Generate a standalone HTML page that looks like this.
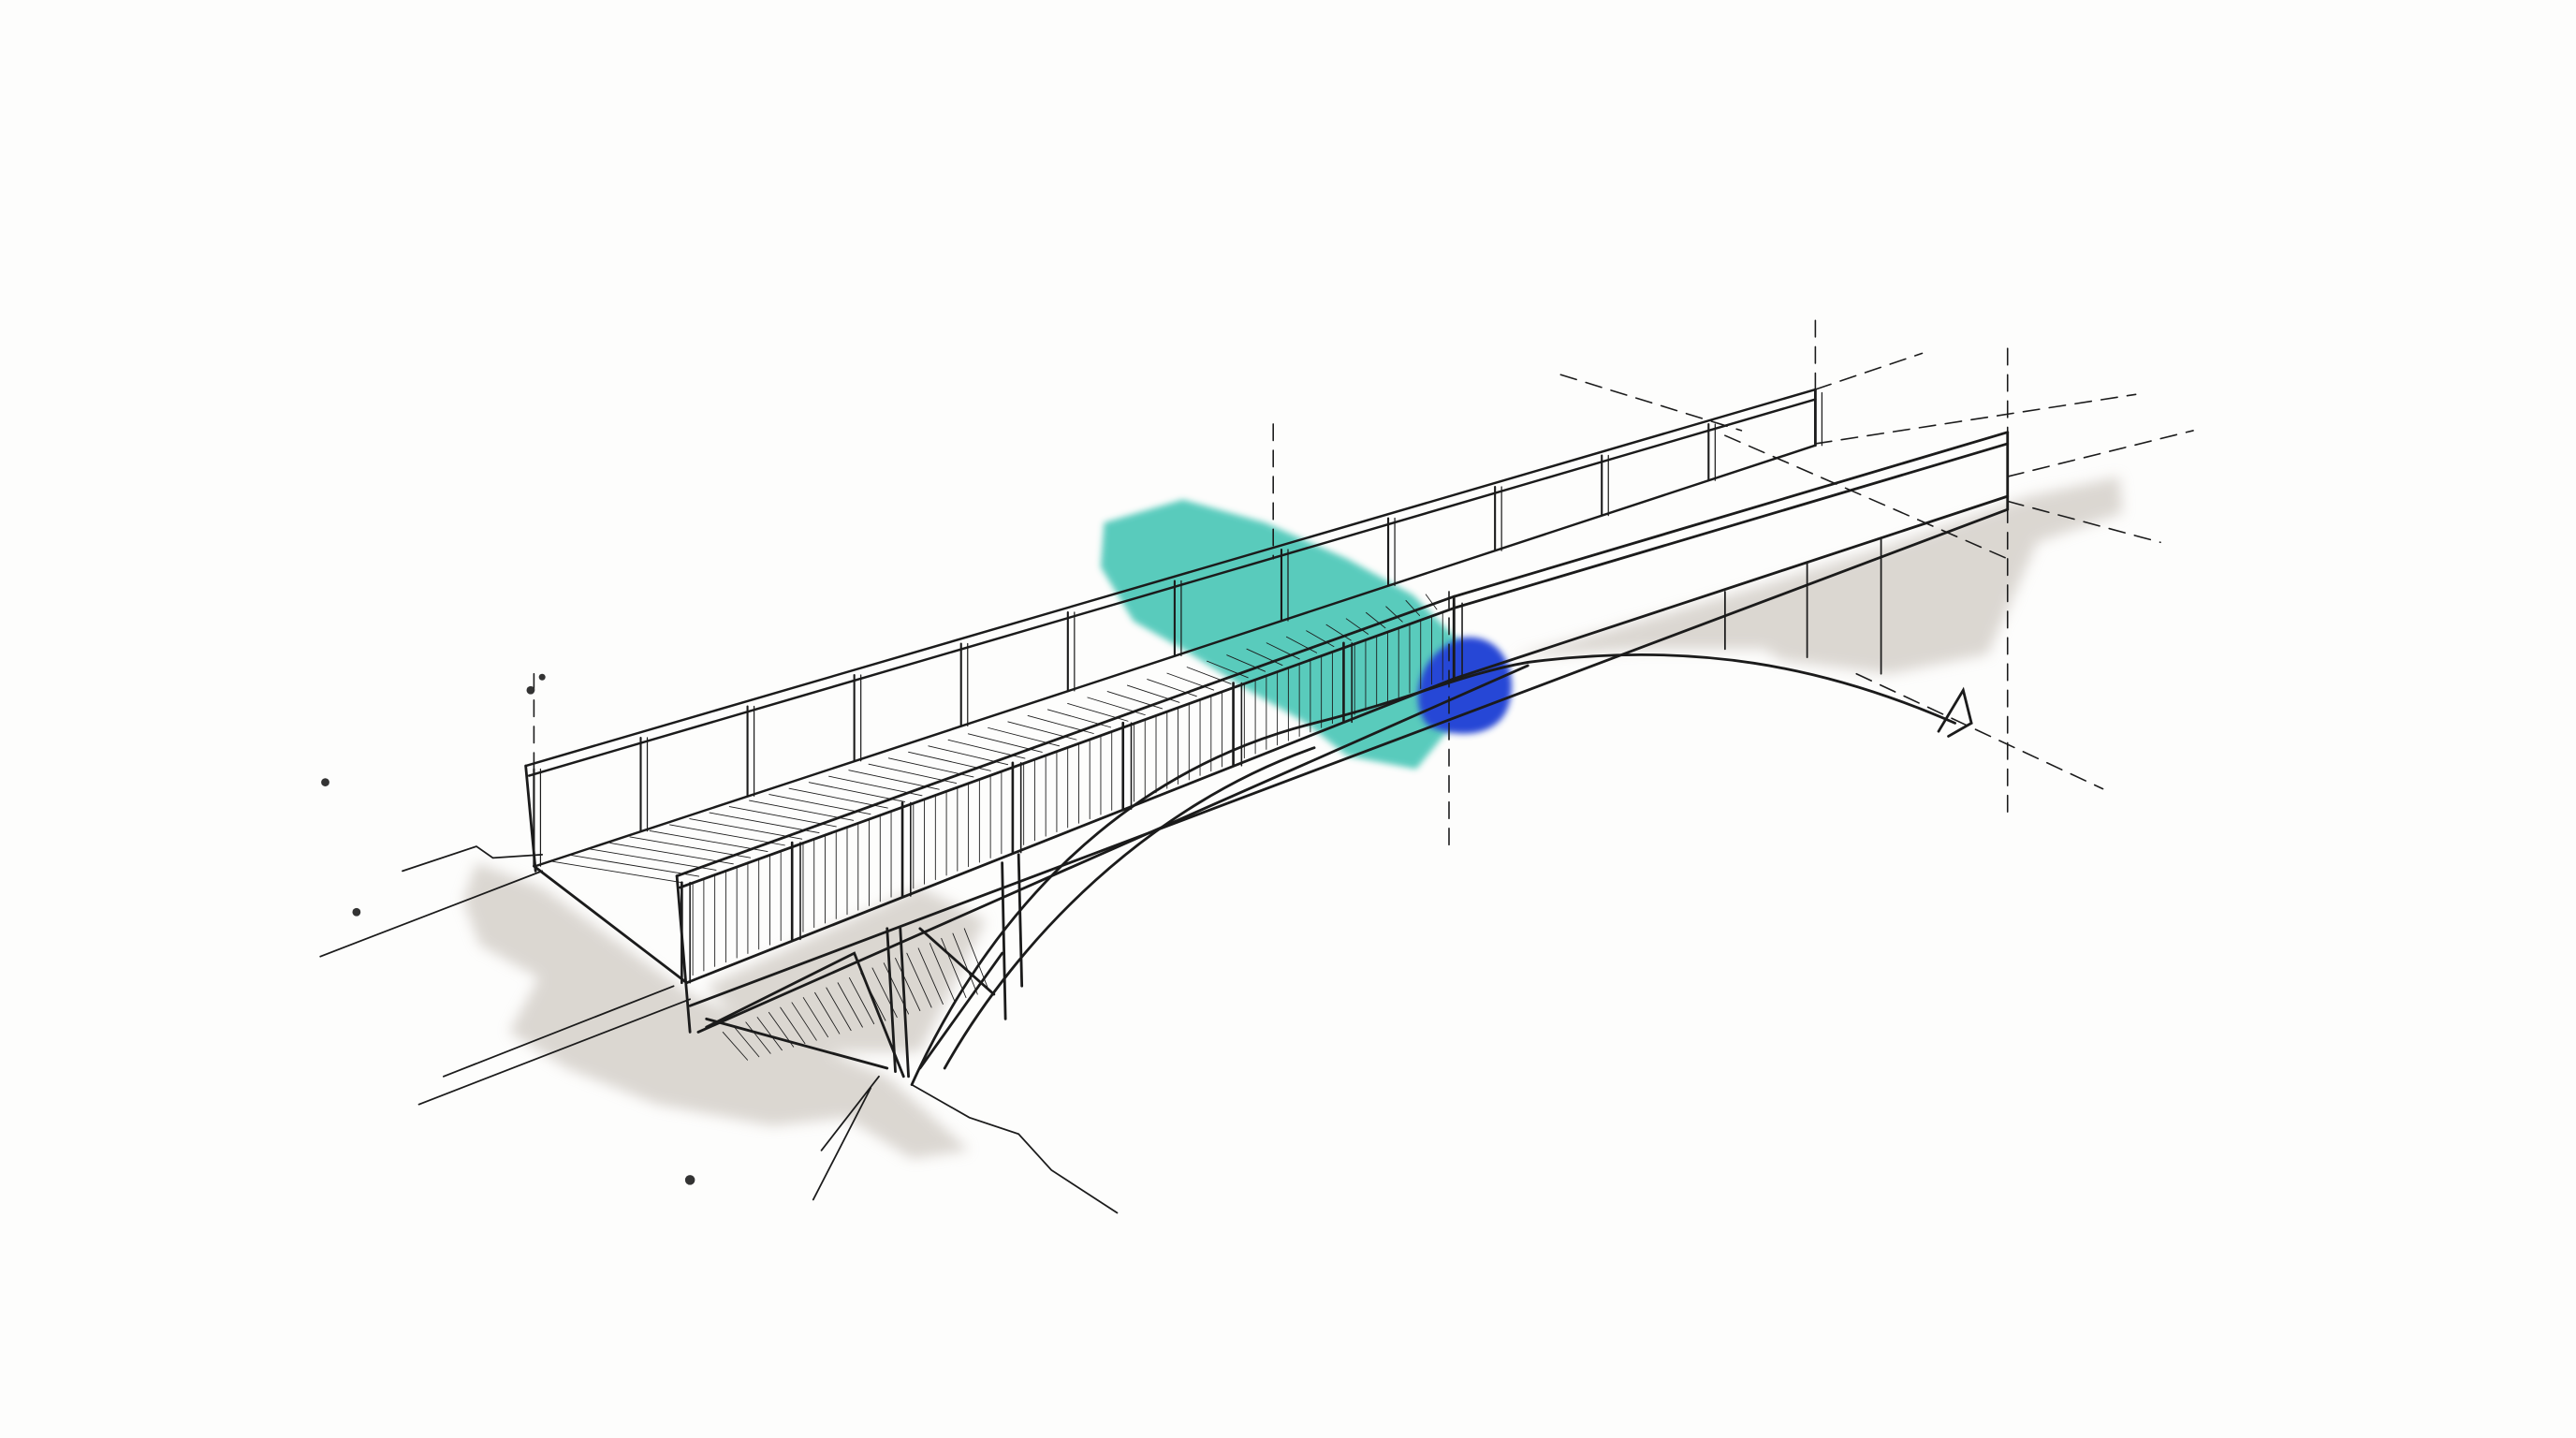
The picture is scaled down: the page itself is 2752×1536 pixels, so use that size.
<!DOCTYPE html>
<html><head><meta charset="utf-8"><style>
html,body{margin:0;padding:0;background:#fdfdfc;}
svg{display:block}
</style></head><body>
<svg id="s" width="2752" height="1536" viewBox="0 0 1568 875" preserveAspectRatio="none" xmlns="http://www.w3.org/2000/svg">
<defs>
<filter id="blur" x="-20%" y="-20%" width="140%" height="140%"><feGaussianBlur stdDeviation="4"/></filter>
<filter id="blur2" x="-20%" y="-20%" width="140%" height="140%"><feGaussianBlur stdDeviation="2"/></filter>
</defs>
<rect width="1568" height="875" fill="#fdfdfc"/>
<g fill="#d3cec7" opacity="0.8" filter="url(#blur)">
<path d="M290,525 L330,540 L420,605 L540,655 L590,700 L555,705 L515,680 L470,685 L400,672 L345,650 L310,628 L328,595 L292,575 L282,548Z"/>
<path d="M1060,360 L1150,332 L1235,302 L1290,290 L1292,312 L1240,330 L1210,398 L1150,410 L1085,402 L1052,382Z"/>
<path d="M430,600 L560,540 L600,560 L560,640 L470,640Z"/>
<path d="M920,400 L1060,360 L1130,395 L1000,395Z"/>
</g>
<path d="M672,318 L720,304 L770,318 L820,340 L860,362 L890,392 L885,440 L862,468 L820,460 L795,440 L760,420 L720,395 L690,378 L670,345Z" fill="#3cc3b2" opacity="0.85" filter="url(#blur2)"/>
<path d="M890,388 C915,385 925,410 918,430 C912,448 888,450 870,442 C858,432 860,398 890,388Z" fill="#2747d6" filter="url(#blur2)"/>
<g stroke="#1b1b1b" fill="none" stroke-linecap="round">
<g stroke-width="0.9" stroke-dasharray="10,6">
<line x1="775" y1="258" x2="775" y2="340"/>
<line x1="1105" y1="195" x2="1105" y2="270"/>
<line x1="1222" y1="212" x2="1222" y2="500"/>
<line x1="882" y1="360" x2="882" y2="520"/>
<line x1="325" y1="410" x2="325" y2="470"/>
<line x1="950" y1="228" x2="1060" y2="262"/>
<line x1="1105" y1="237" x2="1170" y2="215"/>
<line x1="1105" y1="270" x2="1300" y2="240"/>
<line x1="1222" y1="290" x2="1335" y2="262"/>
<line x1="1222" y1="305" x2="1315" y2="330"/>
<line x1="1130" y1="410" x2="1280" y2="480"/>
<line x1="1050" y1="265" x2="1222" y2="340"/>
</g>
<g stroke-width="1">
<line x1="195" y1="582" x2="330" y2="530"/>
<line x1="255" y1="672" x2="420" y2="608"/>
<line x1="270" y1="655" x2="410" y2="600"/>
<path d="M245,530 L290,515 L300,522 L330,520"/>
<path d="M555,660 L590,680 L620,690 L640,712 L680,738"/>
<path d="M535,655 L500,700 M530,662 L495,730"/>
</g>
<g stroke-width="1.4">
<line x1="320" y1="466" x2="1105" y2="237"/>
<line x1="322" y1="472" x2="1105" y2="243"/>
<line x1="326" y1="527" x2="1105" y2="271"/>
</g>
<g stroke-width="1.6">
<line x1="412" y1="533" x2="885" y2="363"/>
<line x1="414" y1="540" x2="885" y2="370"/>
<line x1="885" y1="363" x2="1222" y2="263"/>
<line x1="885" y1="370" x2="1222" y2="270"/>
<line x1="418" y1="598" x2="885" y2="413"/>
<line x1="885" y1="413" x2="1222" y2="302"/>
<line x1="420" y1="612" x2="1222" y2="310"/>
<line x1="425" y1="628" x2="930" y2="405"/>
<line x1="1222" y1="263" x2="1222" y2="310"/>
<line x1="1105" y1="237" x2="1105" y2="271"/>
<line x1="325" y1="527" x2="418" y2="598"/>
<line x1="412" y1="533" x2="420" y2="628"/>
<line x1="320" y1="466" x2="326" y2="530"/>
<line x1="885" y1="363" x2="885" y2="413"/>
</g>
<g stroke-width="1.6">
<path d="M555,660 C600,560 680,470 800,440 C860,425 890,410 930,403 C1030,390 1110,405 1190,440"/>
<path d="M575,650 C620,570 700,490 800,455"/>
<path d="M545,652 L540,565 M553,655 L548,565 M612,620 L610,525 M622,600 L620,520"/>
<path d="M430,620 L540,650 M430,625 L520,580 L550,655 M560,565 L605,605 M560,650 L610,580"/>
<path d="M1180,445 L1195,420 L1200,440 L1186,448"/>
</g>
<g stroke-width="1"><line x1="1050" y1="360" x2="1050" y2="395"/><line x1="1100" y1="342" x2="1100" y2="400"/><line x1="1145" y1="328" x2="1145" y2="410"/></g>
<g id="gen" stroke-width="0.9"></g>
</g>
<g fill="#333"><circle cx="330" cy="412" r="2"/><circle cx="323" cy="420" r="2.5"/><circle cx="198" cy="476" r="2.5"/><circle cx="217" cy="555" r="2.5"/><circle cx="420" cy="718" r="3"/></g>
</svg>
<script>
var g=document.getElementById('gen'),ns='http://www.w3.org/2000/svg';
function L(a,b,c,d,w){var l=document.createElementNS(ns,'line');l.setAttribute('x1',a);l.setAttribute('y1',b);l.setAttribute('x2',c);l.setAttribute('y2',d);if(w)l.setAttribute('stroke-width',w);g.appendChild(l);}
for(var i=0;i<=12;i++){var t=i/12,x=325+t*780,yt=468-t*229,yb=527-t*256;L(x,yt,x,yb,1.2);L(x+4,yt,x+4,yb,0.7);}
for(var i=0;i<=7;i++){var t=i/7,x=415+t*470,yt=537-t*170,yb=598-t*185;L(x,yt,x,yb,1.5);L(x+5,yt,x+5,yb,0.9);
 if(i<7)for(var k=1;k<10;k++){var xx=x+k*6.7,tt=(xx-415)/470;L(xx,537-tt*170+3,xx,598-tt*185-2,0.5);}}
for(var i=0;i<45;i++){var t=i/45,x1=335+t*545,y1=524-t*166,x2=415+t*470,y2=537-t*170;L(x1,y1,x2+ (1-t)*0,y2,0.5);}
for(var i=0;i<22;i++){var x=440+i*7;L(x,628-i*3,x+15,645-i*2,0.5);}
</script>
</body></html>
